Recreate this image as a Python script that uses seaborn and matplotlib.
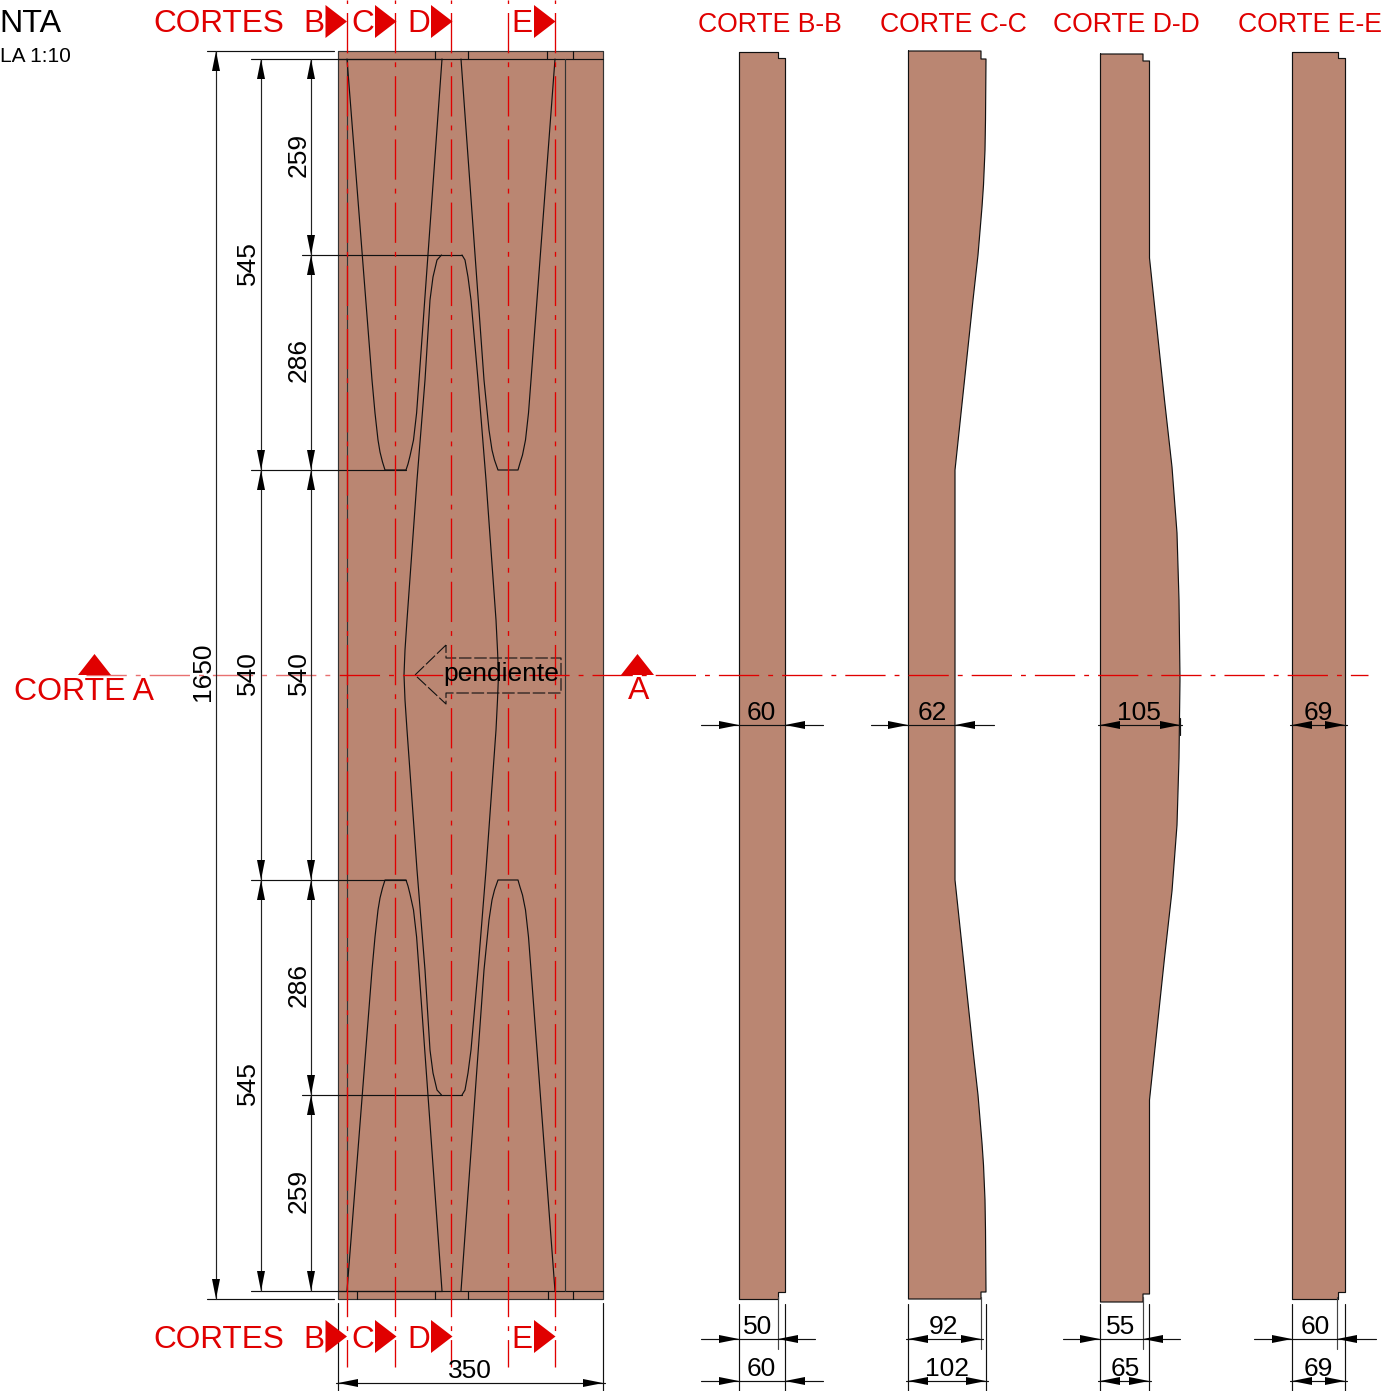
import matplotlib
matplotlib.use("Agg")
import matplotlib.pyplot as plt
import seaborn as sns

W, H = 1383, 1391
WOOD = "#BA8672"
RED = "#E00000"
INK = "#111111"

# plan
plan_box = ([338, 603, 603, 338, 338], [51, 51, 1299, 1299, 51])
plan_inner_y = [59, 1291]
plan_inner_x = [347, 565]
top_ticks = [435, 468, 547, 573]
bottom_ticks = [357, 435, 468, 548, 573]
mirror_y = 1350

left_piece_x = [347, 372, 375, 378, 380, 382.5, 385, 406, 408, 410, 413.5, 416.6, 419, 442]
left_piece_y = [59, 380, 413, 440, 452, 462, 470, 470, 464, 456, 440, 413, 380, 59]
right_piece_x = [461, 484, 489, 492, 494.5, 498, 518, 520, 522.5, 525.5, 528.5, 531, 555]
right_piece_y = [59, 380, 430, 450, 460, 470, 470, 463, 455, 440, 413, 380, 59]
centre_left_x = [441.5, 437, 433, 430, 425, 417, 407, 405, 404]
centre_right_x = [462, 465, 468, 471, 478, 486, 496, 497.5, 498.5]
centre_half_y = [255, 260, 277, 300, 380, 480, 620, 650, 675]

arrow_x = [446, 415, 446, 446, 561, 561, 446, 446]
arrow_y = [645, 675, 704, 693, 693, 658, 658, 645]

# section cuts
cut_x = [347, 395, 451, 508, 555]
cut_labels = ["B", "C", "D", "E"]
cut_label_x = [303, 351, 407, 511]
cut_tri_x = [325.5, 375, 431, 534]
cut_tri_y = [(5, 38), (1320, 1353)]

# profiles
bb_x = [739, 778, 778, 785, 785, 778, 778, 739, 739]
bb_y = [52, 52, 58, 58, 1292, 1292, 1299, 1299, 52]
cc_x = [908.5, 981, 981, 986, 985.5, 985, 983.5, 982, 978, 973, 955,
        955, 973, 978, 982, 983.5, 985, 985.5, 986, 981, 981, 908.5, 908.5]
cc_y = [51, 51, 59, 59, 120, 150, 185, 207, 255, 300, 470,
        880, 1050, 1095, 1143, 1165, 1200, 1230, 1292, 1292, 1299, 1299, 51]
dd_x = [1100.5, 1143, 1143, 1149.5, 1149.5, 1164.5, 1172, 1177, 1179, 1180,
        1179, 1177, 1172, 1164.5, 1149.5, 1149.5, 1143, 1143, 1100.5, 1100.5]
dd_y = [54, 54, 61, 61, 258, 400, 467, 533, 600, 679,
        758, 825, 891, 958, 1100, 1294, 1294, 1302, 1302, 54]
ee_x = [1292, 1337.5, 1337.5, 1345, 1345, 1337.5, 1337.5, 1292, 1292]
ee_y = [52, 52, 58, 58, 1292, 1292, 1299, 1299, 52]

section_names = ["CORTE B-B", "CORTE C-C", "CORTE D-D", "CORTE E-E"]
section_name_x = [698, 880, 1053, 1237.5]

# vertical dimensions: stops and labels
dim_1650_stops = [51, 1299]
dim_mid_stops = [59, 470, 880, 1291]
dim_mid_labels = ["545", "540", "545"]
dim_mid_label_y = [263, 673, 1083]
dim_in_stops = [59, 255, 470, 880, 1095, 1291]
dim_in_labels = ["259", "286", "540", "286", "259"]
dim_in_label_y = [155, 360, 673, 985, 1191]

# horizontal dimensions of the sections
dim_label = ["60", "62", "105", "69", "50", "92", "55", "60", "60", "102", "65", "69"]
dim_text_x = [761, 932, 1139, 1318, 758, 943, 1121, 1315, 761, 947, 1125, 1318]
dim_left = [739, 908, 1100, 1292, 739, 908, 1100, 1292, 739, 908, 1100, 1292]
dim_right = [785, 955, 1180, 1345, 778, 981, 1143, 1337, 785, 986, 1149, 1345]
dim_from = [701, 871, None, None, 701, None, 1063, 1254, 701, None, None, None]
dim_to = [823, 994, None, None, 815, None, 1180, 1376, 823, None, None, None]
dim_line_y = [725, 725, 725, 725, 1339, 1339, 1339, 1339, 1381, 1381, 1381, 1381]
ext_x = [739, 785, 908, 986, 1100, 1149, 1292, 1345]
ext_short_x = [778, 981, 1143, 1337]

sns.set_style("white")
plt.rcParams["font.family"] = ["Liberation Sans", "DejaVu Sans"]
plt.rcParams["lines.scale_dashes"] = False

fig = plt.figure(figsize=(W / 100, H / 100), dpi=100)
ax = fig.add_axes([0, 0, 1, 1])


def line(xs, ys, color=INK, lw=0.85, **kw):
    sns.lineplot(x=xs, y=ys, sort=False, estimator=None, color=color, lw=lw, ax=ax, legend=False, **kw)


def head(tip_x, tip_y, dx, dy):
    # filled dimension arrow, (dx, dy) points from the tip to the tail
    nx, ny = dy * 0.2, dx * 0.2
    ax.fill([tip_x, tip_x + dx + nx, tip_x + dx - nx], [tip_y, tip_y + dy + ny, tip_y + dy - ny], color="black", lw=0, zorder=6)


def label(x, y, s, size=19, color="black", **kw):
    ax.text(x, y, s, fontsize=size, color=color, va=kw.pop("va", "baseline"), ha=kw.pop("ha", "center"), zorder=7, **kw)


def flip(ys):
    return [mirror_y - v for v in ys]


# plan
ax.fill(plan_box[0], plan_box[1], color=WOOD, lw=0)
line(*plan_box, color="#333333")
for y in plan_inner_y:
    line([338, 603], [y, y])
for x in plan_inner_x:
    line([x, x], plan_inner_y, color="#333333")
for x in top_ticks:
    line([x, x], [51, 59])
for x in bottom_ticks:
    line([x, x], [1291, 1299])
for xs, ys in [(left_piece_x, left_piece_y), (right_piece_x, right_piece_y)]:
    line(xs, ys)
    line(xs, flip(ys))
centre_y = centre_half_y + flip(centre_half_y)[::-1][1:]
line(centre_left_x + centre_left_x[::-1][1:], centre_y)
line(centre_right_x + centre_right_x[::-1][1:], centre_y)
line(arrow_x, arrow_y, lw=0.8, linestyle=(0, (9, 2)))
label(501, 681, "pendiente", size=19)

# sections
for xs, ys in [(bb_x, bb_y), (cc_x, cc_y), (dd_x, dd_y), (ee_x, ee_y)]:
    ax.fill(xs, ys, color=WOOD, lw=0)
    line(xs, ys)
for x, s in zip(section_name_x, section_names):
    label(x, 32, s, size=19.2, color=RED, ha="left")

# cut lines
dash_dot = (29, 6.5, 3.5, 6.5)
for x in cut_x:
    line([x, x], [0, 1367], color=RED, lw=0.95, linestyle=(36.5, dash_dot), zorder=5)
line([85.5, 338], [675, 675], color="#E87070", lw=1, linestyle=(0, dash_dot), zorder=1)
line([338, 1368], [675, 675], color=RED, lw=0.95, linestyle=(44.6, dash_dot), zorder=5)

for tri_x in cut_tri_x:
    for y0, y1 in cut_tri_y:
        ax.fill([tri_x, tri_x + 21.5, tri_x], [y0, (y0 + y1) / 2, y1], color=RED, lw=0, zorder=6)
for y in [32.5, 1348]:
    label(153, y, "CORTES", size=22.7, color=RED, ha="left")
    for x, s in zip(cut_label_x, cut_labels):
        label(x, y, s, size=22.7, color=RED, ha="left")
for x0 in [78, 621]:
    ax.fill([x0, x0 + 16.5, x0 + 33], [675, 654, 675], color=RED, lw=0, zorder=6)
label(14, 700, "CORTE A", size=23, color=RED, ha="left")
label(628, 699, "A", size=23, color=RED, ha="left")

label(-1, 32.5, "NTA", size=23.2, ha="left")
label(0, 62, "LA 1:10", size=15, ha="left")

# vertical dimensions
for y, x0 in [(51, 207), (1299, 207)]:
    line([x0, 334], [y, y])
for y in [59, 1291]:
    line([251, 442], [y, y])
for y in [470, 880]:
    line([251, 406], [y, y])
for y in [255, 1095]:
    line([302, 462], [y, y])

for x, stops in [(216, dim_1650_stops), (261, dim_mid_stops), (311, dim_in_stops)]:
    line([x, x], [stops[0], stops[-1]], color="#222222")
    for i, y in enumerate(stops):
        if i > 0:
            head(x, y, 0, -20)
        if i < len(stops) - 1:
            head(x, y, 0, 20)
label(203, 672, "1650", rotation=90, va="center", ha="center", rotation_mode="anchor")
for y, s in zip(dim_mid_label_y, dim_mid_labels):
    label(248, y, s, rotation=90, va="center", ha="center", rotation_mode="anchor")
for y, s in zip(dim_in_label_y, dim_in_labels):
    label(299, y, s, rotation=90, va="center", ha="center", rotation_mode="anchor")

# section dimensions
for x in ext_x:
    line([x, x], [1304, 1391])
for x in ext_short_x:
    line([x, x], [1297, 1349], color="#444444")
line([1180, 1180], [718, 735])
for s, tx, a, b, x0, x1, y in zip(dim_label, dim_text_x, dim_left, dim_right, dim_from, dim_to, dim_line_y):
    if x0 is None:
        line([a - 2, b + 2], [y, y])
        head(a, y, 20, 0)
        head(b, y, -20, 0)
    else:
        line([x0, x1], [y, y])
        head(a, y, -20, 0)
        head(b, y, 20, 0)
    label(tx, y - 5, s)

# overall width
for x in [338, 603]:
    line([x, x], [1303, 1391])
line([336, 605], [1383, 1383])
head(338, 1383, 20, 0)
head(603, 1383, -20, 0)
label(470, 1378, "350")

ax.set_xlim(0, W)
ax.set_ylim(H, 0)
ax.axis("off")
fig.savefig("out.png", dpi=100)
